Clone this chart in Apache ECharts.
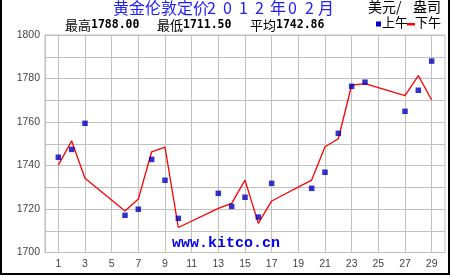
<!DOCTYPE html>
<html>
<head>
<meta charset="utf-8">
<script src="https://cdn.jsdelivr.net/npm/echarts@6/dist/echarts.min.js"></script>
<style>
html,body{margin:0;padding:0;background:#fff;}
#chart{width:450px;height:275px;}
</style>
</head>
<body>
<div id="chart"></div>
<script>
// Trading days (February 2012)
const days = ['1','2','3','6','7','8','9','10','13','14','15','16','17','20','21','22','23','24','27','28','29'];
// AM fixing (上午)
const amValues = [1743.8,1747.4,1759.4,1717.1,1719.9,1742.8,1733.2,1715.7,1727.2,1721.2,1725.4,1716.3,1731.8,1729.5,1736.9,1754.8,1776.4,1778.3,1764.9,1774.6,1788.0];
// PM fixing (下午)
const pmValues = [1740.2,1751.3,1734.1,1719.1,1724.6,1746.3,1748.4,1711.5,1720.3,1722.6,1733.3,1713.4,1723.7,1733.3,1748.6,1752.3,1777.0,1777.6,1772.1,1781.3,1770.1];
// x axis slots 0..30
const xCategories = Array.from({length:31}, (_, i) => String(i));
const yTicks = [1700,1720,1740,1760,1780,1800];

// title pieces: "黄金伦敦定价2 0 1 2 年0 2 月"
const titleParts = ['黄金伦敦定价','2','0','1','2','年','0','2','月'];
const titleX = [113, 207, 223, 239, 255, 270, 288, 305, 318];
const unitParts = ['美元/','盎司'];
const statLabels = ['最高','最低','平均'];
const statValues = ['1788.00','1711.50','1742.86'];
const legendNames = ['上午','下午'];
const watermark = 'www.kitco.cn';

const chart = echarts.init(document.getElementById('chart'), null, {renderer:'canvas'});
const amData = days.map((d,i)=>[d, amValues[i]]);
const pmData = days.map((d,i)=>[d, pmValues[i]]);
const oddIdx = (idx) => idx % 2 === 1 && idx < 30;

const statX = [65, 157, 250];
const graphics = [];
statLabels.forEach((lab, i) => {
  graphics.push({type:'text', left:statX[i], top:19, style:{
    rich:{a:{font:'13px "Noto Sans CJK SC"', fill:'#000'}, b:{font:'bold 11.5px "DejaVu Sans Mono"', fill:'#000'}},
    text:'{a|'+lab+'}{b|'+statValues[i]+'}'
  }});
});
titleParts.forEach((t, i) => {
  graphics.push({type:'text', left:titleX[i], top:0, style:{text:t, font:'16px "Noto Sans CJK SC"', fill:'#2020ff'}});
});
graphics.push(
  {type:'text', left:368, top:0, style:{text:unitParts[0], font:'14px "Noto Sans CJK SC"', fill:'#000'}},
  {type:'text', left:413, top:0, style:{text:unitParts[1], font:'14px "Noto Sans CJK SC"', fill:'#000'}},
  {type:'rect', shape:{x:376, y:21.5, width:5, height:5}, style:{fill:'#0000cc'}},
  {type:'text', left:382, top:16, style:{text:legendNames[0], font:'13px "Noto Sans CJK SC"', fill:'#000'}},
  {type:'rect', shape:{x:407, y:23, width:8, height:2.5}, style:{fill:'#ff0000'}},
  {type:'text', left:415, top:16, style:{text:legendNames[1], font:'13px "Noto Sans CJK SC"', fill:'#000'}},
  {type:'text', x:172, y:251, style:{text:watermark, font:'bold 15px "Liberation Mono"', fill:'#0000ee', textVerticalAlign:'bottom'}, z:10},
  {type:'rect', shape:{x:0, y:0, width:2, height:275}, style:{fill:'#000'}},
  {type:'rect', shape:{x:448, y:0, width:2, height:275}, style:{fill:'#000'}},
  {type:'rect', shape:{x:0, y:273, width:450, height:2}, style:{fill:'#000'}}
);

chart.setOption({
  animation:false,
  backgroundColor:'#fff',
  grid:{left:45, right:5, top:35, bottom:22.5, show:true, borderColor:'#c0c0c0', borderWidth:1, containLabel:false},
  xAxis:{
    type:'category', data:xCategories, boundaryGap:false,
    axisLine:{show:true, lineStyle:{color:'#c0c0c0'}},
    axisTick:{show:false},
    axisLabel:{interval:oddIdx, color:'#444', fontFamily:'Liberation Sans', fontSize:10.5, margin:6},
    splitLine:{show:true, interval:oddIdx, lineStyle:{color:'#c0c0c0', width:1}}
  },
  yAxis:{
    type:'value', min:1700, max:1800, interval:10,
    axisLine:{show:true, lineStyle:{color:'#c0c0c0'}},
    axisTick:{show:false},
    axisLabel:{color:'#444', fontFamily:'Liberation Sans', fontSize:10.5, margin:5,
      formatter:(v)=> yTicks.includes(v) ? String(v) : ''},
    splitLine:{show:true, lineStyle:{color:'#c0c0c0', width:1}}
  },
  series:[
    {name:legendNames[1], type:'line', data:pmData, symbol:'none', smooth:false,
      lineStyle:{color:'#ff0000', width:1.3}, z:2},
    {name:legendNames[0], type:'scatter', data:amData, symbol:'rect', symbolSize:5.5,
      itemStyle:{color:'#0000bb'}, z:3}
  ],
  graphic:graphics
});
</script>
</body>
</html>
